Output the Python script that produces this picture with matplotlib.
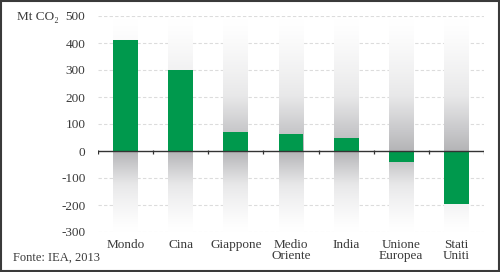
import numpy as np
import matplotlib
matplotlib.use("Agg")
import matplotlib.pyplot as plt
from matplotlib.colors import LinearSegmentedColormap
from matplotlib.patches import Rectangle

categories = ["Mondo", "Cina", "Giappone", "Medio\nOriente", "India", "Unione\nEuropea", "Stati\nUniti"]
values = [411, 300, 70, 62, 50, -42, -197]
yticks = [-300, -200, -100, 0, 100, 200, 300, 400, 500]

plt.rcParams['font.family'] = ['Liberation Serif', 'DejaVu Serif']
txt = '#3a3a3a'
green = '#00994d'

fig = plt.figure(figsize=(5.0, 2.72), dpi=100)
ax = fig.add_axes([98/500, 1-232/272, 386/500, 216/272])

x = np.arange(len(categories))

# background gray gradient columns
cmap = LinearSegmentedColormap.from_list('g', ['#ffffff', '#e8e8e9', '#b4b4b7'])
up = (np.linspace(1, 0, 256).reshape(-1, 1)) ** 1.3
down = (np.linspace(0, 1, 256).reshape(-1, 1)) ** 1.3
w = 0.45
for xi in x:
    ax.imshow(up, cmap=cmap, vmin=0, vmax=1, aspect='auto', origin='lower',
              extent=(xi - w/2, xi + w/2, 0, 490), zorder=1, interpolation='bilinear')
    ax.imshow(down, cmap=cmap, vmin=0, vmax=1, aspect='auto', origin='lower',
              extent=(xi - w/2, xi + w/2, -300, 0), zorder=1, interpolation='bilinear')

for yv in yticks:
    if yv != 0:
        ax.axhline(yv, color='#dcdcdc', lw=0.8, ls=(0, (3, 2)), zorder=0.5)

ax.bar(x, values, width=w, color=green, zorder=3)
ax.axhline(0, color='#333333', lw=1.0, zorder=4)
bounds = np.arange(len(categories) + 1) - 0.5
ax.vlines(bounds, -10, 2, color='#333333', lw=0.9, zorder=4)

ax.set_xlim(-0.5, len(categories) - 0.5)
ax.set_ylim(-300, 500)
ax.set_yticks(yticks)
ax.set_yticklabels([str(v) for v in yticks])
ax.set_xticks(x)
ax.set_xticklabels(categories, linespacing=0.85, va='top')
ax.tick_params(axis='both', length=0, colors=txt, labelsize=9.5)
ax.tick_params(axis='y', pad=9)
ax.tick_params(axis='x', pad=5)
for s in ax.spines.values():
    s.set_visible(False)

fig.text(17/500, 1-17/272, "Mt CO\u2082", fontsize=9.5, color=txt, va='center', ha='left')
fig.text(13/500, 1-258/272, "Fonte: IEA, 2013", fontsize=9, color=txt, va='center', ha='left')

fig.patches.append(Rectangle((0.002, 0.003), 0.995, 0.994, transform=fig.transFigure,
                             fill=False, edgecolor='#3a3a3a', lw=1.5))

fig.savefig("out.png", dpi=100)
